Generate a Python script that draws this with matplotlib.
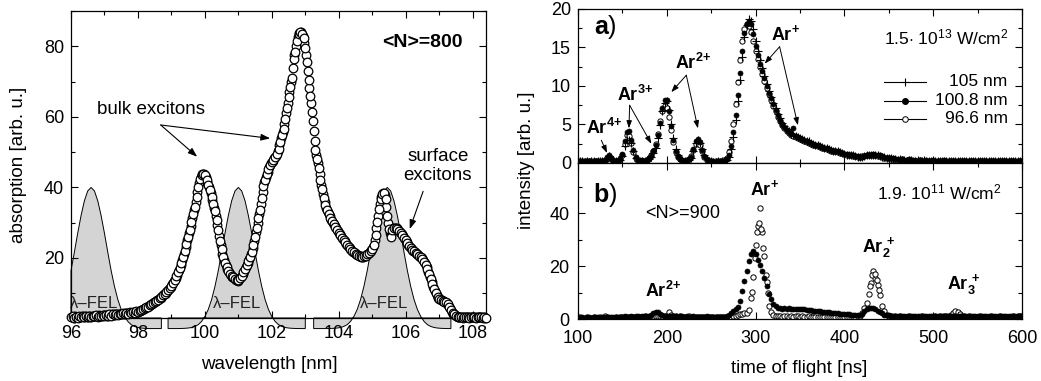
import numpy as np
import matplotlib
matplotlib.use('Agg')
import matplotlib.pyplot as plt
from matplotlib.ticker import MultipleLocator

plt.rcParams['font.family'] = ['Liberation Sans', 'DejaVu Sans']
plt.rcParams['mathtext.fontset'] = 'custom'
plt.rcParams['mathtext.rm'] = 'Liberation Sans'
plt.rcParams['mathtext.it'] = 'Liberation Sans:italic'
plt.rcParams['mathtext.bf'] = 'Liberation Sans:bold'

# absorption spectrum of Ar clusters, <N>=800 (0.05 nm steps from 96.00 nm)
wl_start, wl_step = 96.0, 0.05
absorption = [
    3.2, 3.5, 3.0, 3.4, 3.1, 3.6, 3.2, 3.5, 3.3, 3.6,
    3.4, 3.7, 3.3, 3.6, 3.5, 3.8, 3.4, 3.7, 3.6, 3.9,
    3.6, 3.9, 3.7, 4.0, 3.7, 4.1, 3.8, 4.1, 3.9, 4.2,
    4.0, 4.3, 4.1, 4.4, 4.2, 4.6, 4.3, 4.7, 4.5, 4.9,
    4.8, 5.1, 5.2, 5.5, 5.7, 6.0, 6.2, 6.6, 6.9, 7.2,
    7.5, 7.9, 8.2, 8.6, 9.0, 9.5, 9.9, 10.4, 10.9, 11.5,
    12.2, 13.0, 13.8, 14.8, 15.9, 17.2, 18.6, 20.2, 22.0, 24.0,
    26.0, 28.0, 30.2, 32.5, 34.5, 37.2, 40.0, 42.3, 43.5, 43.8,
    43.4, 42.2, 40.8, 39.2, 37.4, 35.2, 33.2, 30.8, 27.8, 24.8,
    22.5, 20.2, 18.6, 17.4, 16.4, 15.6, 15.0, 14.5, 14.0, 13.7,
    13.8, 14.3, 15.0, 15.9, 16.9, 18.0, 19.2, 20.4, 21.8, 23.8,
    26.0, 28.6, 31.2, 33.6, 37.0, 40.5, 42.2, 43.8, 45.3, 46.4,
    47.3, 47.9, 48.6, 49.5, 51.0, 53.0, 55.0, 56.5, 59.5, 62.5,
    65.5, 68.5, 71.0, 76.5, 78.5, 81.5, 83.5, 84.0, 83.6, 82.3,
    79.5, 75.5, 70.5, 66.0, 61.5, 56.0, 50.5, 48.0, 45.5, 42.0,
    39.5, 37.0, 35.0, 33.6, 32.4, 31.4, 30.4, 29.6, 28.8, 28.0,
    27.2, 26.5, 25.8, 25.1, 24.5, 23.8, 23.2, 22.6, 22.0, 21.6,
    21.2, 20.9, 20.7, 20.5, 20.4, 20.5, 20.7, 21.0, 21.4, 21.9,
    22.5, 23.8, 26.5, 30.2, 34.0, 36.6, 38.0, 38.5, 36.8, 32.0,
    28.2, 26.0, 28.0, 28.6, 28.6, 28.2, 27.6, 27.0, 26.4, 25.8,
    25.0, 24.2, 23.5, 22.9, 22.4, 21.9, 21.4, 21.0, 20.6, 20.2,
    19.8, 19.0, 18.0, 16.8, 15.4, 14.0, 12.6, 11.2, 10.0, 9.0,
    8.5, 8.1, 7.9, 7.6, 7.4, 7.1, 6.2, 5.2, 4.5, 4.0,
    3.6, 3.4, 3.2, 3.3, 3.1, 3.4, 3.2, 3.3, 3.1, 3.4,
    3.2, 3.3, 3.1, 3.4, 3.2, 3.3, 3.1, 3.2, 3.0,
]
# a second, interleaved scan over the same range (offset by 0.025 nm)
absorption_2 = [
    3.4, 3.1, 3.5, 3.2, 3.4, 3.3, 3.5, 3.2, 3.6, 3.4,
    3.5, 3.3, 3.6, 3.5, 3.7, 3.5, 3.8, 3.6, 3.7, 3.8,
    3.8, 3.7, 3.9, 3.8, 4.0, 3.9, 4.0, 4.0, 4.1, 4.1,
    4.2, 4.2, 4.3, 4.3, 4.4, 4.5, 4.5, 4.6, 4.7, 4.8,
    5.0, 5.1, 5.4, 5.6, 5.9, 6.1, 6.4, 6.7, 7.0, 7.4,
    7.7, 8.0, 8.4, 8.8, 9.2, 9.7, 10.2, 10.7, 11.2, 11.8,
    12.6, 13.4, 14.3, 15.3, 16.5, 17.9, 19.4, 21.1, 23.0, 25.0,
    27.0, 29.1, 31.3, 33.5, 35.8, 38.6, 41.2, 43.0, 43.7, 43.7,
    42.9, 41.5, 40.0, 38.3, 36.3, 34.2, 32.0, 29.3, 26.3, 23.6,
    21.2, 19.3, 18.0, 16.9, 16.0, 15.3, 14.7, 14.2, 13.8, 13.6,
    14.0, 14.6, 15.4, 16.4, 17.4, 18.6, 19.8, 21.1, 22.8, 24.9,
    27.3, 29.9, 32.4, 35.3, 38.8, 41.4, 43.0, 44.5, 45.9, 46.9,
    47.6, 48.2, 49.0, 50.2, 52.0, 54.0, 55.8, 58.0, 61.0, 64.0,
    67.0, 69.8, 73.8, 77.5, 80.0, 82.5, 83.8, 84.0, 83.0, 81.0,
    77.5, 73.0, 68.2, 63.8, 58.8, 53.2, 49.2, 46.8, 43.8, 40.8,
    38.2, 36.0, 34.3, 33.0, 31.9, 30.9, 30.0, 29.2, 28.4, 27.6,
    26.8, 26.1, 25.4, 24.8, 24.1, 23.5, 22.9, 22.3, 21.8, 21.4,
    21.0, 20.8, 20.6, 20.4, 20.4, 20.6, 20.8, 21.2, 21.6, 22.2,
    23.0, 25.0, 28.4, 32.0, 35.4, 37.4, 38.3, 37.8, 34.5, 30.0,
    27.0, 27.2, 28.4, 28.6, 28.4, 27.9, 27.3, 26.7, 26.1, 25.4,
    24.6, 23.8, 23.2, 22.6, 22.1, 21.6, 21.2, 20.8, 20.4, 20.0,
    19.4, 18.5, 17.4, 16.1, 14.7, 13.3, 11.9, 10.6, 9.5, 8.7,
    8.3, 8.0, 7.7, 7.5, 7.2, 6.7, 5.7, 4.8, 4.2, 3.8,
    3.5, 3.3, 3.3, 3.2, 3.2, 3.3, 3.3, 3.2, 3.2, 3.3,
    3.3, 3.2, 3.2, 3.3, 3.3, 3.2, 3.2, 3.1,
]

# FEL spectral profiles used for the ToF measurements
fel1_wl = [round(96.0 + 0.1 * i, 2) for i in range(28)]
fel1 = [16.4, 21.6, 27.0, 32.0, 36.2, 39.0, 40.0, 39.0, 36.2, 32.0,
        27.0, 21.6, 16.4, 11.9, 8.2, 5.4, 3.4, 2.0, 1.1, 0.6,
        0.3, 0.15, 0.07, 0, 0, 0, 0, 0]
fel2_wl = [round(98.9 + 0.1 * i, 2) for i in range(42)]
fel2 = [0, 0, 0, 0, 0.03, 0.07, 0.15, 0.3, 0.6, 1.1,
        2.0, 3.4, 5.4, 8.2, 11.9, 16.4, 21.6, 27.0, 32.0, 36.2,
        39.0, 40.0, 39.0, 36.2, 32.0, 27.0, 21.6, 16.4, 11.9, 8.2,
        5.4, 3.4, 2.0, 1.1, 0.6, 0.3, 0.15, 0.07, 0.03, 0, 0, 0]
fel3_wl = [round(103.25 + 0.1 * i, 2) for i in range(42)]
fel3 = [0, 0, 0, 0, 0, 0.03, 0.07, 0.15, 0.3, 0.6,
        1.1, 2.0, 3.4, 5.4, 8.2, 11.9, 16.4, 21.6, 27.0, 32.0,
        36.2, 39.0, 40.0, 39.0, 36.2, 32.0, 27.0, 21.6, 16.4, 11.9,
        8.2, 5.4, 3.4, 2.0, 1.1, 0.6, 0.3, 0.15, 0.07, 0.03, 0, 0]

# time-of-flight spectra, 2.5 ns steps from 100 to 600 ns
tof = np.linspace(100, 600, 201)

# a) 1.5e13 W/cm^2
a_105 = [
    0.1, 0.2, 0.2, 0.1, 0.2, 0.1, 0.2, 0.2,
    0.1, 0.2, 0.2, 0.3, 0.3, 0.7, 0.9, 0.6,
    0.3, 0.2, 0.2, 0.4, 0.9, 2.2, 3.0, 3.0,
    2.6, 1.5, 0.7, 0.3, 0.2, 0.3, 0.3, 0.3,
    0.5, 0.8, 1.3, 2.0, 3.2, 4.9, 6.8, 7.8,
    8.0, 6.9, 5.0, 3.2, 1.8, 1.0, 0.6, 0.4,
    0.3, 0.2, 0.4, 0.7, 1.6, 2.6, 3.0, 2.6,
    1.8, 1.0, 0.5, 0.3, 0.2, 0.1, 0.1, 0.2,
    0.1, 0.2, 0.2, 0.4, 0.8, 1.8, 3.4, 5.6,
    8.0, 10.8, 13.8, 16.4, 17.9, 18.7, 18.4, 17.4,
    15.8, 14.6, 13.4, 12.3, 11.3, 10.3, 9.4, 8.6,
    7.8, 7.1, 6.4, 5.8, 5.2, 4.8, 4.4, 4.1,
    3.9, 3.6, 3.5, 3.4, 3.3, 3.1, 3.0, 2.9,
    2.8, 2.6, 2.5, 2.4, 2.3, 2.2, 2.1, 2.0,
    1.9, 1.8, 1.7, 1.6, 1.6, 1.5, 1.4, 1.3,
    1.2, 1.1, 1.1, 1.0, 1.0, 0.9, 0.8, 0.8,
    0.8, 0.9, 1.0, 1.0, 1.1, 1.1, 1.0, 1.0,
    0.9, 0.8, 0.8, 0.7, 0.6, 0.6, 0.5, 0.5,
    0.4, 0.5, 0.4, 0.4, 0.3, 0.4, 0.4, 0.3,
    0.3, 0.4, 0.3, 0.3, 0.4, 0.3, 0.3, 0.2,
    0.3, 0.3, 0.2, 0.3, 0.3, 0.2, 0.3, 0.3,
    0.2, 0.3, 0.3, 0.2, 0.3, 0.2, 0.2, 0.3,
    0.2, 0.3, 0.2, 0.3, 0.3, 0.2, 0.3, 0.2,
    0.3, 0.3, 0.2, 0.2, 0.2, 0.3, 0.3, 0.2,
    0.3, 0.2, 0.2, 0.3, 0.2, 0.3, 0.2, 0.3,
    0.2,
]
a_1008 = [
    0.2, 0.3, 0.1, 0.2, 0.3, 0.2, 0.1, 0.3,
    0.2, 0.2, 0.3, 0.2, 0.4, 0.8, 1.0, 0.7,
    0.3, 0.2, 0.3, 0.5, 1.2, 2.8, 4.0, 4.1,
    3.0, 1.7, 0.8, 0.4, 0.3, 0.4, 0.3, 0.4,
    0.6, 0.9, 1.5, 2.3, 3.6, 5.2, 7.1, 8.2,
    8.2, 6.8, 4.8, 3.0, 1.6, 0.9, 0.5, 0.4,
    0.3, 0.3, 0.5, 0.8, 1.8, 2.8, 3.1, 2.7,
    1.7, 0.9, 0.5, 0.3, 0.2, 0.2, 0.1, 0.2,
    0.1, 0.2, 0.3, 0.5, 1.0, 2.2, 4.0, 6.2,
    8.8, 11.7, 14.6, 16.9, 18.1, 18.5, 18.0, 16.8,
    15.2, 14.0, 12.9, 11.9, 11.0, 10.0, 9.1, 8.4,
    7.6, 6.9, 6.2, 5.6, 5.1, 4.7, 4.3, 4.0,
    3.8, 4.6, 3.5, 3.4, 3.2, 3.1, 3.0, 2.8,
    2.7, 2.6, 2.5, 2.4, 2.3, 2.2, 2.1, 2.0,
    1.9, 1.8, 1.7, 1.6, 1.5, 1.5, 1.4, 1.3,
    1.2, 1.2, 1.1, 1.0, 1.0, 0.9, 0.9, 0.8,
    0.8, 0.9, 1.0, 1.1, 1.1, 1.2, 1.1, 1.1,
    1.0, 0.9, 0.8, 0.7, 0.7, 0.6, 0.6, 0.5,
    0.5, 0.4, 0.5, 0.4, 0.4, 0.5, 0.4, 0.3,
    0.4, 0.3, 0.4, 0.3, 0.3, 0.4, 0.3, 0.3,
    0.4, 0.3, 0.3, 0.2, 0.3, 0.4, 0.3, 0.2,
    0.3, 0.3, 0.2, 0.3, 0.2, 0.3, 0.3, 0.2,
    0.3, 0.2, 0.3, 0.2, 0.2, 0.3, 0.2, 0.3,
    0.2, 0.2, 0.3, 0.2, 0.3, 0.2, 0.2, 0.3,
    0.2, 0.3, 0.2, 0.2, 0.3, 0.2, 0.3, 0.2,
    0.3,
]
a_966 = [
    0.2, 0.1, 0.2, 0.3, 0.1, 0.2, 0.3, 0.2,
    0.2, 0.3, 0.1, 0.2, 0.3, 0.6, 0.8, 0.6,
    0.2, 0.3, 0.2, 0.5, 1.1, 2.5, 3.6, 3.5,
    2.6, 1.4, 0.7, 0.3, 0.3, 0.2, 0.3, 0.4,
    0.6, 1.0, 1.6, 2.5, 3.8, 5.4, 6.8, 7.4,
    7.2, 6.0, 4.3, 2.7, 1.4, 0.8, 0.5, 0.3,
    0.3, 0.4, 0.5, 0.9, 1.7, 2.5, 2.8, 2.4,
    1.5, 0.8, 0.4, 0.3, 0.2, 0.1, 0.2, 0.1,
    0.2, 0.2, 0.4, 0.7, 1.4, 2.9, 5.0, 7.6,
    10.5, 13.4, 15.8, 17.4, 18.0, 17.8, 17.0, 15.8,
    14.6, 13.5, 12.5, 11.6, 10.7, 9.8, 9.0, 8.2,
    7.4, 6.7, 6.0, 5.4, 4.9, 4.5, 4.2, 3.9,
    3.7, 3.5, 3.4, 3.3, 3.1, 3.0, 2.9, 2.7,
    2.6, 2.5, 2.4, 2.3, 2.2, 2.1, 2.0, 1.9,
    1.8, 1.7, 1.6, 1.6, 1.5, 1.4, 1.3, 1.3,
    1.2, 1.1, 1.0, 1.0, 0.9, 0.9, 0.8, 0.8,
    0.9, 0.9, 1.0, 1.1, 1.1, 1.0, 1.0, 0.9,
    0.9, 0.8, 0.7, 0.7, 0.6, 0.5, 0.5, 0.5,
    0.4, 0.4, 0.5, 0.3, 0.4, 0.3, 0.4, 0.3,
    0.3, 0.3, 0.4, 0.3, 0.3, 0.2, 0.3, 0.3,
    0.2, 0.3, 0.3, 0.2, 0.3, 0.2, 0.3, 0.2,
    0.3, 0.2, 0.2, 0.3, 0.3, 0.2, 0.3, 0.2,
    0.2, 0.3, 0.2, 0.2, 0.3, 0.2, 0.2, 0.3,
    0.2, 0.3, 0.2, 0.3, 0.2, 0.2, 0.3, 0.2,
    0.3, 0.2, 0.3, 0.2, 0.2, 0.3, 0.2, 0.2,
    0.3,
]

# b) 1.9e11 W/cm^2, <N>=900
b_1008 = [
    0.6, 0.5, 0.7, 0.5, 0.6, 0.7, 0.5, 0.6,
    0.7, 0.6, 0.5, 0.7, 0.6, 0.8, 0.7, 0.6,
    0.7, 0.6, 0.8, 0.7, 0.8, 1.0, 0.9, 0.8,
    1.0, 0.9, 1.1, 1.0, 0.9, 1.1, 1.0, 1.2,
    1.3, 1.6, 2.2, 2.8, 2.6, 2.0, 1.5, 1.2,
    1.1, 1.2, 1.0, 1.1, 1.0, 0.9, 1.0, 1.1,
    0.9, 1.0, 0.8, 0.9, 1.0, 0.9, 0.8, 0.9,
    0.8, 0.9, 1.0, 0.8, 0.9, 0.8, 0.7, 0.8,
    0.7, 0.8, 0.9, 1.0, 1.5, 2.2, 3.0, 3.8,
    4.5, 7.0, 10.5, 14.5, 18.0, 22.0, 24.5, 25.8,
    24.5, 22.5, 20.5, 18.0, 15.5, 12.5, 9.5, 7.5,
    5.8, 4.8, 4.3, 4.1, 3.9, 4.0, 3.9, 4.0,
    3.8, 3.9, 3.8, 3.7, 3.8, 3.6, 3.6, 3.5,
    3.4, 3.3, 3.2, 3.1, 3.0, 2.9, 2.8, 2.7,
    2.6, 2.5, 2.4, 2.3, 2.2, 2.1, 2.0, 1.9,
    1.9, 1.8, 1.8, 1.7, 1.6, 1.6, 1.5, 1.5,
    2.0, 2.9, 3.6, 4.0, 4.1, 4.0, 3.6, 3.1,
    2.6, 2.1, 1.7, 1.5, 1.4, 1.3, 1.3, 1.2,
    1.2, 1.1, 1.2, 1.1, 1.2, 1.1, 1.1, 1.2,
    1.1, 1.2, 1.1, 1.1, 1.2, 1.1, 1.2, 1.1,
    1.1, 1.2, 1.1, 1.2, 1.1, 1.2, 1.2, 1.1,
    1.2, 1.3, 1.2, 1.1, 1.2, 1.3, 1.2, 1.2,
    1.1, 1.2, 1.3, 1.2, 1.2, 1.1, 1.2, 1.3,
    1.2, 1.2, 1.1, 1.2, 1.3, 1.2, 1.2, 1.1,
    1.2, 1.3, 1.2, 1.2, 1.3, 1.2, 1.3, 1.2,
    1.3,
]
b_966 = [
    0.5, 0.6, 0.4, 0.5, 0.6, 0.4, 0.5, 0.6,
    0.5, 0.4, 0.6, 0.5, 1.3, 0.6, 0.5, 0.4,
    0.5, 0.6, 0.5, 0.6, 0.7, 0.6, 0.8, 0.7,
    0.8, 0.7, 0.9, 0.8, 0.9, 0.8, 1.0, 0.9,
    0.9, 1.0, 1.1, 1.0, 1.2, 1.0, 1.1, 1.3,
    1.2, 2.5, 1.4, 1.1, 1.0, 0.9, 1.0, 0.9,
    0.8, 0.9, 1.0, 0.8, 0.9, 0.7, 0.8, 0.9,
    0.8, 0.7, 0.8, 0.7, 0.6, 0.7, 0.6, 0.7,
    0.6, 0.7, 0.8, 0.7, 0.8, 0.9, 1.0, 1.2,
    1.5, 1.8, 2.0, 2.3, 2.3, 3.5, 8.0, 16.0,
    28.0, 35.0, 42.0, 33.0, 24.0, 14.0, 5.0, 2.5,
    1.5, 1.2, 1.0, 1.1, 0.9, 1.0, 1.1, 0.9,
    1.0, 0.9, 1.1, 1.0, 0.9, 1.0, 0.8, 0.9,
    1.0, 0.9, 0.8, 0.9, 0.8, 0.9, 0.8, 0.9,
    0.8, 0.9, 0.8, 0.7, 0.8, 0.9, 0.8, 0.7,
    0.8, 0.7, 0.8, 0.9, 0.8, 0.9, 1.0, 1.1,
    2.2, 4.0, 6.0, 9.5, 13.5, 18.0, 15.5, 13.0,
    9.2, 5.0, 3.0, 1.6, 1.1, 1.0, 0.9, 1.0,
    0.9, 1.0, 0.9, 0.8, 0.9, 1.0, 0.9, 0.8,
    0.9, 0.8, 0.9, 1.0, 0.9, 0.8, 0.9, 0.8,
    0.9, 1.0, 0.9, 1.0, 0.9, 1.0, 1.1, 1.2,
    1.5, 2.2, 3.0, 2.5, 1.8, 1.2, 1.0, 0.9,
    1.0, 0.9, 0.8, 0.9, 0.9, 1.0, 0.9, 0.8,
    0.9, 0.8, 1.0, 0.9, 0.8, 0.9, 1.0, 0.9,
    0.8, 0.9, 0.8, 0.9, 1.0, 0.9, 1.2, 1.0,
    1.1,
]
b_966_extra_t = [296.5, 299, 301.5, 303.5, 306.5, 308.5, 311.5, 313.5,
                 429, 431, 434, 436.5, 439]
b_966_extra = [10.4, 23.0, 33.0, 36.2, 34.0, 26.8, 16.7, 10.0,
               12.3, 16.5, 17.0, 14.8, 11.0]

wl = np.round(wl_start + wl_step * np.arange(len(absorption)), 3)
wl_2 = np.round(wl_start + wl_step / 2 + wl_step * np.arange(len(absorption_2)), 3)


def style(ax):
    ax.tick_params(which='both', direction='in', top=True, right=True,
                   labelsize=13, width=0.8, pad=5)
    ax.tick_params(which='major', length=5)
    ax.tick_params(which='minor', length=3)
    for s in ax.spines.values():
        s.set_linewidth(0.9)


fig = plt.figure(figsize=(10.41, 3.81), dpi=100)
ax1 = fig.add_axes([0.0682, 0.1654, 0.3987, 0.8057])
axa = fig.add_axes([0.5552, 0.5722, 0.4265, 0.4042])
axb = fig.add_axes([0.5552, 0.1627, 0.4265, 0.4095], sharex=axa)

# ---- left: absorption ----
ybot = 3
for fx, fy in [(fel1_wl, fel1), (fel2_wl, fel2), (fel3_wl, fel3)]:
    px = [fx[0]] + list(fx) + [fx[-1]]
    py = [ybot] + list(fy) + [ybot]
    ax1.fill(px, py, facecolor='#d4d4d4', edgecolor='black', lw=0.7,
             clip_on=False, zorder=1)
for xc in [96.7, 100.97, 105.35]:
    ax1.text(xc, 7.2, 'λ–FEL', fontsize=12, ha='center', va='center',
             color='#222222', zorder=2)

circ = dict(ls='none', marker='o', ms=6.2, mfc='white', mec='black', mew=0.9,
            clip_on=False, zorder=3)
ax1.plot(wl_2, absorption_2, **circ)
ax1.plot(wl, absorption, **circ)

ax1.set_xlim(96, 108.4)
ax1.set_ylim(ybot, 90)
ax1.xaxis.set_major_locator(MultipleLocator(2))
ax1.xaxis.set_minor_locator(MultipleLocator(1))
ax1.yaxis.set_major_locator(MultipleLocator(20))
ax1.yaxis.set_minor_locator(MultipleLocator(10))
style(ax1)

ax1.text(107.7, 81.2, '<N>=800', fontsize=14, fontweight='bold',
         ha='right', va='center', zorder=4)
ax1.text(98.38, 62, 'bulk excitons', fontsize=13.5, ha='center', va='center')
ax1.text(106.96, 46.2, 'surface\nexcitons', fontsize=13.5, ha='center',
         va='center', linespacing=1.15)
arrow = dict(arrowstyle='-|>,head_length=0.55,head_width=0.2', lw=0.8,
             color='black', shrinkA=0, shrinkB=0)
ax1.annotate('', xy=(99.77, 48.7), xytext=(98.68, 57.7), arrowprops=arrow)
ax1.annotate('', xy=(101.95, 53.9), xytext=(98.68, 57.7), arrowprops=arrow)
ax1.annotate('', xy=(106.12, 28.2), xytext=(106.52, 38.9), arrowprops=arrow)

fig.text(0.259, 0.042, 'wavelength [nm]', fontsize=13.5, ha='center', va='center')
fig.text(0.018, 0.568, 'absorption [arb. u.]', fontsize=13.5, ha='center',
         va='center', rotation=90)

# ---- right: time of flight ----
opn = dict(ls='none', marker='o', ms=3.8, mfc='white', mec='black', mew=0.7)
fil = dict(ls='none', marker='o', ms=3.6, mfc='black', mec='black', mew=0.5)
axa.plot(tof, a_966, zorder=2, **opn)
axa.plot(tof, a_105, '+', ms=5.5, mec='black', mew=0.8, zorder=3)
axa.plot(tof, a_1008, zorder=4, **fil)

axb.plot(tof, b_966, zorder=2, **opn)
axb.plot(b_966_extra_t, b_966_extra, zorder=2, **opn)
axb.plot(tof, b_1008, zorder=3, **fil)

axa.set_xlim(100, 600)
axa.set_ylim(0, 20)
axb.set_ylim(0, 59)
axa.xaxis.set_major_locator(MultipleLocator(100))
axa.xaxis.set_minor_locator(MultipleLocator(50))
axa.yaxis.set_major_locator(MultipleLocator(5))
axa.yaxis.set_minor_locator(MultipleLocator(2.5))
axb.yaxis.set_major_locator(MultipleLocator(20))
axb.yaxis.set_minor_locator(MultipleLocator(10))
style(axa)
style(axb)
axa.tick_params(labelbottom=False)
axb.tick_params(axis='x', pad=8)
axb.tick_params(axis='y', pad=6)

# legend drawn by hand so the labels sit right-aligned
rows = [(0.526, '105 nm', dict(marker='+', ms=6, mec='black', mew=0.8)),
        (0.403, '100.8 nm', dict(marker='o', ms=4, mfc='black', mec='black')),
        (0.286, '96.6 nm', dict(marker='o', ms=4, mfc='white', mec='black', mew=0.7))]
for yy, lab, mk in rows:
    axa.plot([0.689, 0.784], [yy, yy], color='black', lw=0.8,
             transform=axa.transAxes)
    axa.plot([0.7365], [yy], transform=axa.transAxes, ls='none', **mk)
    axa.text(0.968, yy, lab, fontsize=12.5, ha='right', va='center',
             transform=axa.transAxes)

axa.text(0.971, 0.818, r'1.5$\cdot$ 10$^{13}$ W/cm$^2$', fontsize=12.5,
         ha='right', va='center', transform=axa.transAxes)
axa.text(0.061, 0.88, r'$\mathbf{a}$)', fontsize=18, ha='center',
         va='center', transform=axa.transAxes)
axb.text(0.954, 0.81, r'1.9$\cdot$ 10$^{11}$ W/cm$^2$', fontsize=12.5,
         ha='right', va='center', transform=axb.transAxes)
axb.text(0.061, 0.795, r'$\mathbf{b}$)', fontsize=18, ha='center',
         va='center', transform=axb.transAxes)
axb.text(218.4, 40, '<N>=900', fontsize=13, ha='center', va='center')

ion = dict(fontsize=13, ha='center', va='center')
axa.text(130, 4.5, r'$\mathbf{Ar^{4\!+}}$', **ion)
axa.text(164.6, 8.9, r'$\mathbf{Ar^{3\!+}}$', **ion)
axa.text(229.5, 13.0, r'$\mathbf{Ar^{2\!+}}$', **ion)
axa.text(333.5, 16.7, r'$\mathbf{Ar^{+}}$', **ion)
arr = dict(arrowstyle='-|>,head_length=0.45,head_width=0.16', lw=0.7,
           color='black', shrinkA=0, shrinkB=0)
axa.annotate('', xy=(132.7, 1.3), xytext=(126.3, 2.95), arrowprops=arr)
axa.annotate('', xy=(157.4, 4.5), xytext=(158.2, 7.5), arrowprops=arr)
axa.annotate('', xy=(182.6, 2.5), xytext=(158.2, 7.5), arrowprops=arr)
axa.annotate('', xy=(205.1, 9.2), xytext=(222, 11.4), arrowprops=arr)
axa.annotate('', xy=(235.1, 4.5), xytext=(222, 11.4), arrowprops=arr)
axa.annotate('', xy=(310.2, 12.9), xytext=(327.1, 15.1), arrowprops=arr)
axa.annotate('', xy=(347.7, 4.9), xytext=(327.1, 15.1), arrowprops=arr)

axb.text(195.9, 10.6, r'$\mathbf{Ar^{2\!+}}$', **ion)
axb.text(310.5, 49, r'$\mathbf{Ar^{+}}$', **ion)
axb.text(438.3, 27, r'$\mathbf{Ar_2^{\,+}}$', **ion)
axb.text(534, 13.2, r'$\mathbf{Ar_3^{\,+}}$', **ion)

fig.text(0.768, 0.034, 'time of flight [ns]', fontsize=13.5, ha='center',
         va='center')
fig.text(0.506, 0.58, 'intensity [arb. u.]', fontsize=13.5, ha='center',
         va='center', rotation=90)

fig.savefig('out.png', dpi=100)
